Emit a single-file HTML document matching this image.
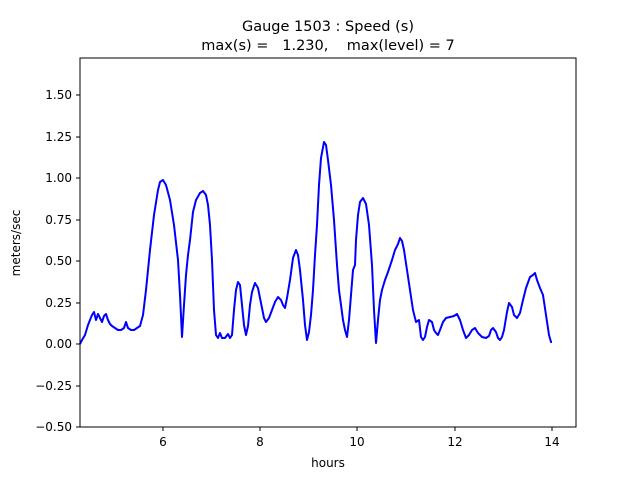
<!DOCTYPE html>
<html><head><meta charset="utf-8"><style>body{margin:0;background:#fff}svg{display:block}</style></head><body>
<svg width="640" height="480" xmlns="http://www.w3.org/2000/svg" font-family="DejaVu Sans, Liberation Sans, sans-serif">
<rect width="640" height="480" fill="#fff"/>
<g font-size="14.5" text-anchor="middle" fill="#000">
<text x="328" y="31">Gauge 1503 : Speed (s)</text>
<text x="328" y="50" xml:space="preserve">max(s) =   1.230,    max(level) = 7</text>
</g>
<polyline fill="none" stroke="#0000ff" stroke-width="2" stroke-linejoin="round" points="80,344 82,340 85,335 88,325 90,320 92,315 94,312 96,320 98,314 100,318 102,322 104,316 106,314 108,320 110,324 112,326 115,328 118,330 121,330 124,328 126,322 128,328 131,330 134,330 137,328 140,326 143,315 146,290 150,250 154,215 158,190 160,182 163,180 166,185 170,200 174,225 178,260 180,295 182,337 184,305 186,275 188,255 190,240 193,212 196,200 200,193 203,191 206,195 208,205 210,225 212,260 214,310 216,335 218,338 220,333 222,338 225,338 228,334 230,338 232,335 234,310 236,290 238,282 240,285 242,305 244,325 246,335 248,326 250,305 252,292 255,283 258,288 261,303 264,318 266,322 269,318 272,310 275,302 278,297 281,300 283,305 285,308 287,298 290,280 293,258 296,250 298,255 300,270 303,300 305,325 307,340 309,332 311,315 313,290 315,255 317,225 319,185 321,158 324,142 326,145 328,160 331,185 334,220 337,265 339,290 341,305 343,320 345,330 347,337 349,320 351,295 353,270 355,265 356,240 358,215 360,202 363,198 366,204 369,225 372,265 374,310 376,343 378,320 380,300 382,290 385,280 388,272 392,260 395,250 398,244 400,238 402,241 404,250 407,270 410,290 413,310 416,322 419,320 421,337 423,340 425,337 427,327 429,320 432,322 434,330 436,333 438,335 440,330 443,322 446,318 450,317 454,316 457,314 460,320 463,330 466,338 469,335 472,330 475,328 478,333 482,337 486,338 489,336 491,330 493,328 496,332 498,338 500,340 502,337 504,330 507,312 509,303 512,307 514,315 517,318 520,313 523,300 526,288 530,277 533,275 535,273 537,280 540,288 543,295 546,315 549,335 551,342 552,342"/>
<rect x="80" y="58" width="496" height="369" fill="none" stroke="#000" stroke-width="1"/>
<g stroke="#000" stroke-width="1">
<line x1="163" y1="427" x2="163" y2="431"/><line x1="260" y1="427" x2="260" y2="431"/><line x1="357" y1="427" x2="357" y2="431"/><line x1="455" y1="427" x2="455" y2="431"/><line x1="552" y1="427" x2="552" y2="431"/>
<line x1="76" y1="427" x2="80" y2="427"/><line x1="76" y1="386" x2="80" y2="386"/><line x1="76" y1="344" x2="80" y2="344"/><line x1="76" y1="303" x2="80" y2="303"/><line x1="76" y1="261" x2="80" y2="261"/><line x1="76" y1="220" x2="80" y2="220"/><line x1="76" y1="178" x2="80" y2="178"/><line x1="76" y1="137" x2="80" y2="137"/><line x1="76" y1="95" x2="80" y2="95"/>
</g>
<g font-size="12" fill="#000" text-anchor="middle">
<text x="163" y="446">6</text><text x="260" y="446">8</text><text x="357" y="446">10</text><text x="455" y="446">12</text><text x="552" y="446">14</text>
<text x="328" y="467">hours</text>
</g>
<g font-size="12" fill="#000" text-anchor="end">
<text x="72" y="431">−0.50</text><text x="72" y="390">−0.25</text><text x="72" y="348">0.00</text><text x="72" y="307">0.25</text><text x="72" y="265">0.50</text><text x="72" y="224">0.75</text><text x="72" y="182">1.00</text><text x="72" y="141">1.25</text><text x="72" y="99">1.50</text>
</g>
<text x="20" y="243" font-size="12" text-anchor="middle" transform="rotate(-90 20 243)">meters/sec</text>
</svg>
</body></html>
